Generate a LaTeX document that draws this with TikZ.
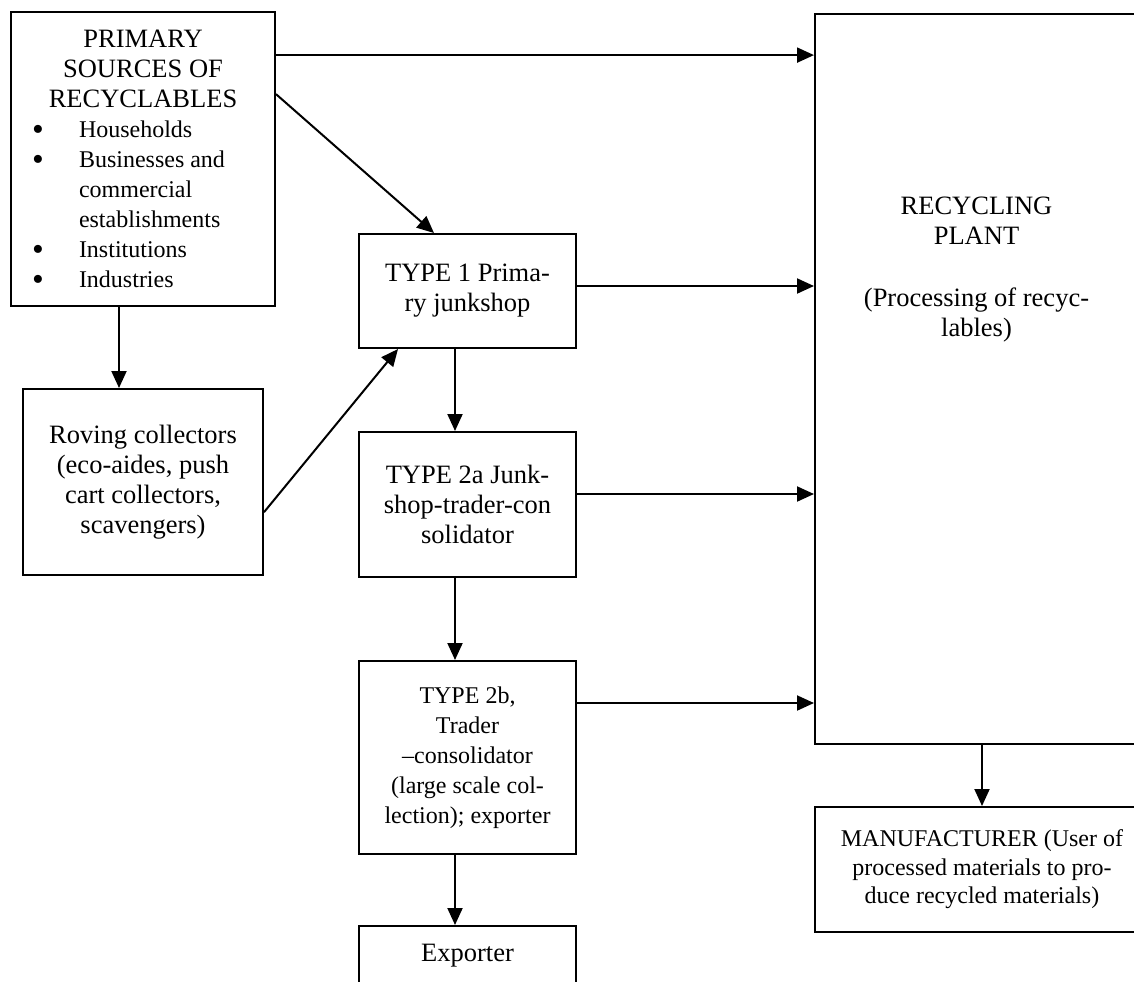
\documentclass[tikz,border=0pt]{standalone}
\usepackage{fontspec}
\setmainfont{Liberation Serif}
\usetikzlibrary{arrows.meta, positioning}
\tikzset{
  every picture/.style={line width=1pt},
  box/.style={draw, align=center, inner sep=0pt, font=\fontsize{13.25pt}{15pt}\selectfont},
  small/.style={font=\fontsize{12pt}{15pt}\selectfont},
  arrow/.style={-{Triangle[length=8.5pt, width=7.5pt]}, line width=1pt},
}
\newcommand{\srcitem}[1]{\makebox[34pt][l]{\hspace{13.5pt}\makebox[0pt]{\smash{\raisebox{-1.2pt}{\scalebox{1.4}{\textbullet}}}}}#1}

\begin{document}
\begin{tikzpicture}[x=0.5pt, y=-0.5pt]
  \useasboundingbox (0,0) rectangle (1134,981);
  \clip (0,0) rectangle (1134,981);
  \node[box, minimum width=132pt, minimum height=147pt] (src) at (143,159) {\parbox{132pt}{\centering PRIMARY\\SOURCES OF\\RECYCLABLES\par\raggedright\fontsize{12pt}{15pt}\selectfont
    \srcitem{Households}\\\srcitem{Businesses and}\\\hspace*{34pt}commercial\\\hspace*{34pt}establishments\\\srcitem{Institutions}\\\srcitem{Industries}}};
  \node[box, minimum width=120pt, minimum height=93pt] (rov) at (143,482) {Roving collectors\\(eco-aides, push\\cart collectors,\\scavengers)};
  \node[box, minimum width=108.5pt, minimum height=57pt] (t1) at (467.5,291) {TYPE 1 Prima-\\ry junkshop};
  \node[box, minimum width=108.5pt, minimum height=72.5pt] (t2a) at (467.5,504.5) {TYPE 2a Junk-\\shop-trader-con\\solidator};
  \node[box, small, minimum width=108.5pt, minimum height=96.5pt] (t2b) at (467.5,757.5) {TYPE 2b,\\Trader\\\textendash consolidator\\(large scale col-\\lection); exporter};
  \node[box, minimum width=108.5pt, minimum height=30pt] (exp) at (467.5,956) {Exporter};
  \node[box, minimum width=161.5pt, minimum height=365pt] (plant) at (976.5,379) {};
  \node[box, draw=none, anchor=north, yshift=-91.5pt] (plant-t) at (plant.north) {RECYCLING\\PLANT\\[16pt](Processing of recyc-\\lables)};
  \node[box, minimum width=167pt, minimum height=62.5pt, font=\fontsize{12pt}{14.25pt}\selectfont] (man) at (982,869.5) {MANUFACTURER (User of\\processed materials to pro-\\duce recycled materials)};
  \draw[arrow] (src.38) -- (src.38 -| plant.west);
  \draw[arrow] (src.26.6) -- ([xshift=-16.75pt]t1.north);
  \draw[arrow] ([xshift=-12pt]src.south) -- ([xshift=-12pt]src.south |- rov.north);
  \draw[arrow] (rov.-14.5) -- ([xshift=-34.75pt]t1.south);
  \draw[arrow] ([yshift=2.5pt]t1.east) -- ([yshift=2.5pt]t1.east -| plant.west);
  \draw[arrow] ([yshift=5.25pt]t2a.east) -- ([yshift=5.25pt]t2a.east -| plant.west);
  \draw[arrow] ([yshift=27.25pt]t2b.east) -- ([yshift=27.25pt]t2b.east -| plant.west);
  \draw[arrow] ([xshift=-6.25pt]t1.south) -- ([xshift=-6.25pt]t2a.north);
  \draw[arrow] ([xshift=-6.25pt]t2a.south) -- ([xshift=-6.25pt]t2b.north);
  \draw[arrow] ([xshift=-6.25pt]t2b.south) -- ([xshift=-6.25pt]exp.north);
  \draw[arrow] (plant.south -| man.north) -- (man.north);
\end{tikzpicture}
\end{document}
